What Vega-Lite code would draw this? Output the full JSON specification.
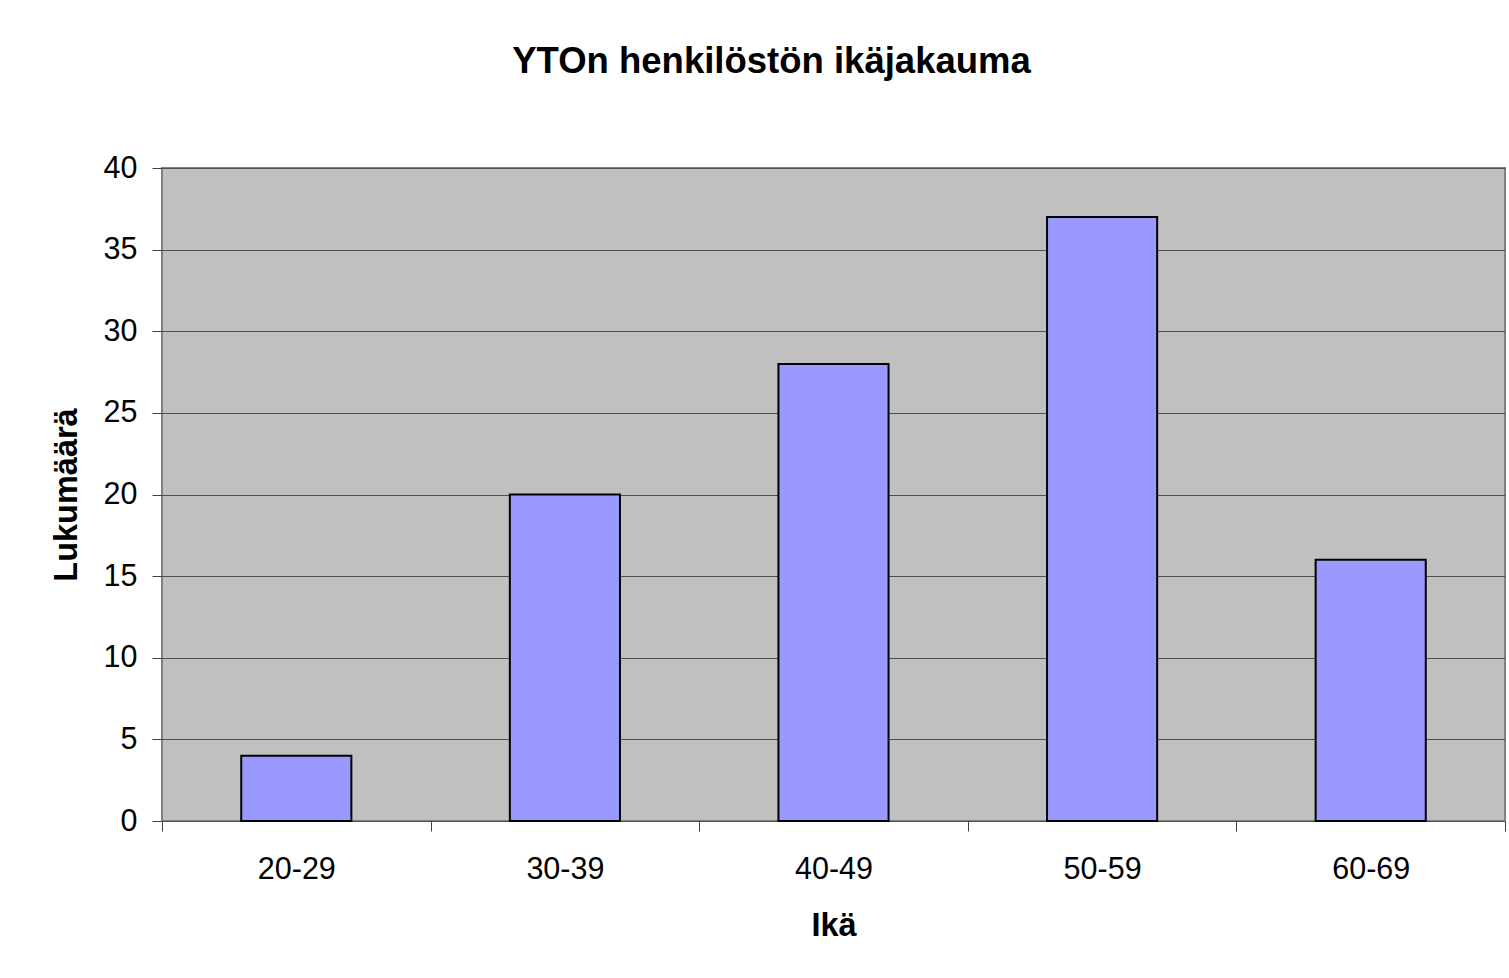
{
  "$schema": "https://vega.github.io/schema/vega-lite/v6.json",
  "autosize": "none",
  "padding": {"left": 162, "top": 168, "right": 4, "bottom": 157},
  "width": 1343,
  "height": 653,
  "background": "white",
  "title": {
    "text": "YTOn henkilöstön ikäjakauma",
    "font": "Liberation Sans",
    "fontSize": 36.5,
    "fontWeight": "bold",
    "color": "black",
    "anchor": "middle",
    "baseline": "alphabetic",
    "offset": 44,
    "dx": -62
  },
  "data": {
    "values": [
      {"ika": "20-29", "lukumaara": 4},
      {"ika": "30-39", "lukumaara": 20},
      {"ika": "40-49", "lukumaara": 28},
      {"ika": "50-59", "lukumaara": 37},
      {"ika": "60-69", "lukumaara": 16}
    ]
  },
  "mark": {"type": "bar", "fill": "#9999FF", "stroke": "black", "strokeWidth": 2, "width": {"band": 0.41}},
  "encoding": {
    "x": {
      "field": "ika",
      "type": "nominal",
      "title": "Ikä",
      "scale": {"paddingInner": 0, "paddingOuter": 0},
      "axis": {
        "labelAngle": 0,
        "tickBand": "extent",
        "grid": false,
        "domain": false,
        "ticks": true,
        "tickSize": 10,
        "tickColor": "#404040",
        "labelPadding": 23,
        "titlePadding": 25
      }
    },
    "y": {
      "field": "lukumaara",
      "type": "quantitative",
      "title": "Lukumäärä",
      "scale": {"domain": [0, 40], "nice": false},
      "axis": {
        "values": [0, 5, 10, 15, 20, 25, 30, 35, 40],
        "grid": true,
        "gridColor": "#505050",
        "gridWidth": 1,
        "domain": false,
        "tickSize": 10,
        "tickColor": "#404040",
        "labelPadding": 15,
        "titlePadding": 20
      }
    }
  },
  "config": {
    "view": {"fill": "#C0C0C0", "stroke": "#808080", "strokeWidth": 2},
    "axis": {
      "labelFont": "Liberation Sans",
      "labelFontSize": 30.5,
      "labelColor": "black",
      "titleFont": "Liberation Sans",
      "titleFontSize": 32.5,
      "titleFontWeight": "bold",
      "titleColor": "black"
    }
  }
}
